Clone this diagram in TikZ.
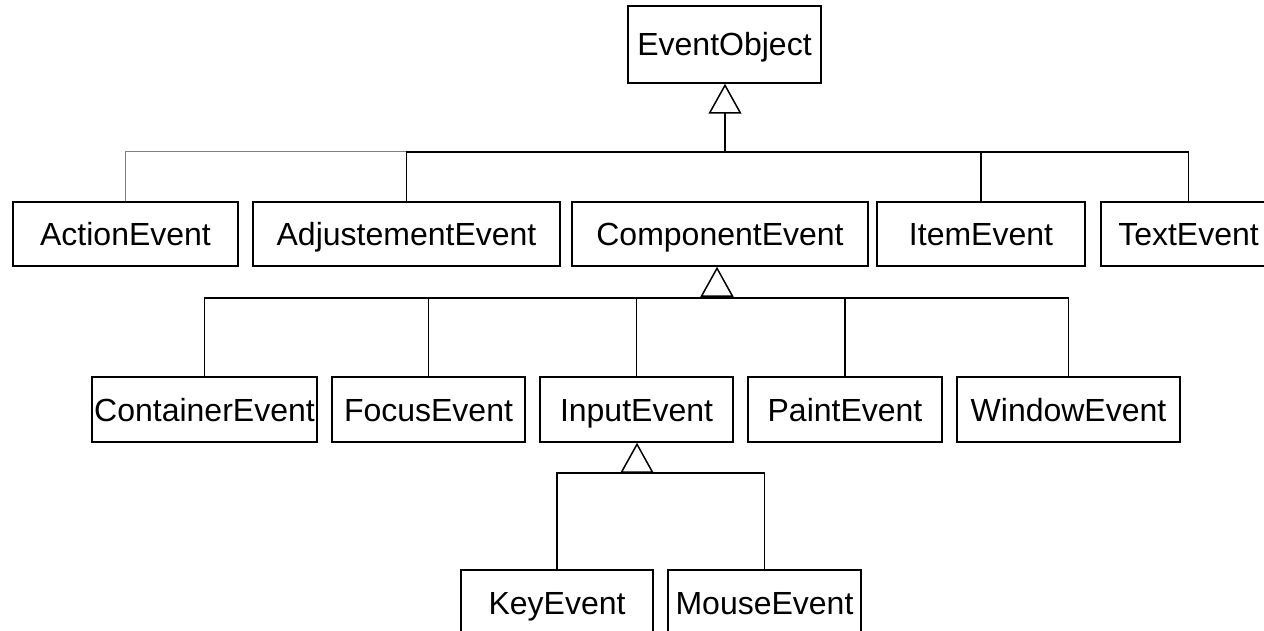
\documentclass[tikz,border=0pt]{standalone}
\usepackage{fontspec}
\setmainfont{Liberation Sans}
\usetikzlibrary{arrows.meta}
\tikzset{
  cls/.style={draw,line width=1.5pt,inner sep=0pt,minimum height=64pt,
    text height=23pt,text depth=0pt,
    font=\fontsize{32}{36}\selectfont},
  link/.style={line width=1.5pt},
  thinlink/.style={line width=1pt,gray},
  gen/.style={line width=1.5pt,-{Triangle[open,length=30pt,width=33pt]}}
}
\begin{document}
\begin{tikzpicture}[x=1pt,y=-1pt]
\useasboundingbox (0,0) rectangle (1264,631);
\clip (0,0) rectangle (1264,631);
% classes
\node[cls,minimum width=193pt,minimum height=77pt] (obj) at (724.5,44.5) {EventObject};
\node[cls,minimum width=225pt] (act) at (125.5,234) {ActionEvent};
\node[cls,minimum width=307pt] (adj) at (406.5,234) {AdjustementEvent};
\node[cls,minimum width=296pt] (comp) at (720,234) {ComponentEvent};
\node[cls,minimum width=208pt] (item) at (981,234) {ItemEvent};
\node[cls,minimum width=175pt] (text) at (1188.5,234) {TextEvent};
\node[cls,minimum width=225pt,minimum height=65pt] (cont) at (204.5,409.5) {ContainerEvent};
\node[cls,minimum width=193pt,minimum height=65pt] (focus) at (428.5,409.5) {FocusEvent};
\node[cls,minimum width=193pt,minimum height=65pt] (input) at (636.5,409.5) {InputEvent};
\node[cls,minimum width=194pt,minimum height=65pt] (paint) at (845,409.5) {PaintEvent};
\node[cls,minimum width=223pt,minimum height=65pt] (window) at (1068.5,409.5) {WindowEvent};
\node[cls,minimum width=192pt,minimum height=65pt] (key) at (557,602.5) {KeyEvent};
\node[cls,minimum width=193pt,minimum height=65pt] (mouse) at (764.5,602.5) {MouseEvent};
% junctions
\coordinate (b1) at (725,152);
\coordinate (b2) at (717,298);
\coordinate (b3) at (637,473);
% inheritance
\draw[gen] (b1) -- (obj.south -| b1);
\draw[thinlink] (act.north) |- (adj.north |- b1);
\draw[link] (adj.north) |- (b1);
\draw[link] (item.north) |- (b1);
\draw[link] (text.north) |- (b1);
\draw[gen] (b2) -- (comp.south -| b2);
\draw[link] (cont.north) |- (b2);
\draw[link] (focus.north) |- (b2);
\draw[link] (input.north) |- (b2);
\draw[link] (paint.north) |- (b2);
\draw[link] (window.north) |- (b2);
\draw[gen] (b3) -- (input.south -| b3);
\draw[link] (key.north) |- (b3);
\draw[link] (mouse.north) |- (b3);
\end{tikzpicture}
\end{document}
